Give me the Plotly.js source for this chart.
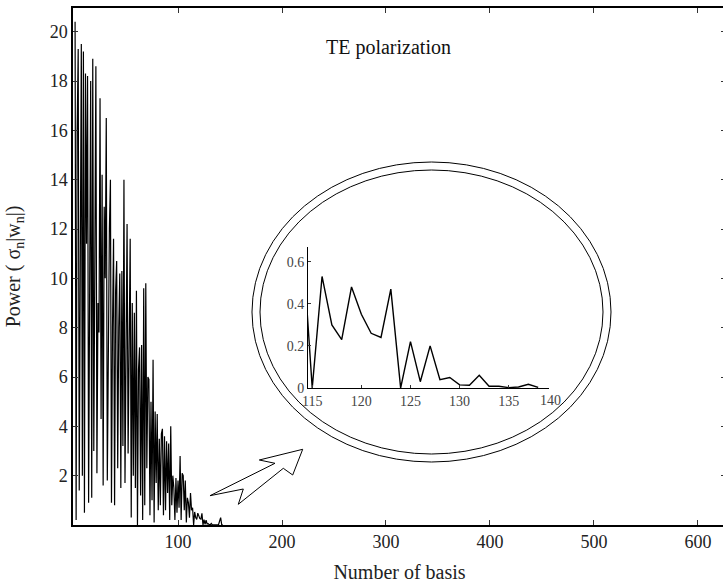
<!DOCTYPE html>
<html>
<head>
<meta charset="utf-8">
<script src="https://cdn.plot.ly/plotly-3.0.1.min.js"></script>
<style>
html,body{margin:0;padding:0;overflow:hidden;background:#fff;}
#chart{width:730px;height:584px;}
</style>
</head>
<body>
<div id="chart"></div>
<script>
// ---- data ----
const power = [
 20.4, 0.2, 16.0, 19.3, 1.4, 15.0, 19.5, 2.0, 19.2, 0.5,
 18.3, 11.4, 18.2, 0.9, 12.0, 18.0, 1.1, 18.9, 3.0, 14.0,
 18.6, 2.1, 9.0, 7.8, 17.3, 4.3, 14.2, 1.6, 12.9, 10.0,
 16.5, 1.8, 9.0, 12.0, 14.0, 0.9, 8.0, 11.6, 0.8, 9.5,
 10.7, 2.3, 8.0, 10.2, 1.5, 10.3, 3.2, 14.0, 1.7, 9.0,
 12.2, 2.9, 7.0, 11.6, 0.3, 9.0, 2.0, 8.6, 1.5, 9.5,
 0.0, 6.3, 7.2, 1.2, 7.3, 0.2, 9.6, 0.8, 9.8, 2.3,
 6.0, 5.9, 0.4, 5.0, 1.0, 6.7, 0.1, 4.6, 1.7, 4.5,
 0.6, 3.5, 0.8, 3.7, 3.9, 0.4, 3.6, 0.6, 3.4, 1.3,
 3.3, 0.2, 4.0, 0.8, 2.0, 1.5, 0.2, 1.9, 0.5, 1.8,
 0.7, 2.8, 0.2, 2.1, 2.0, 0.6, 1.8, 0.1, 1.1, 0.9,
 0.3, 1.3, 0.6, 0.7, 0.0, 0.53, 0.30, 0.23, 0.48, 0.35,
 0.26, 0.24, 0.47, 0.0, 0.22, 0.03, 0.20, 0.04, 0.05, 0.015,
 0.013, 0.06, 0.008, 0.008, 0.002, 0.005, 0.018, 0.003, 0.02, 0.15,
 0.3, 0.02, 0.0
];
const basis = power.map((v, i) => i + 1);
// zoomed window shown in the inset: basis 114 .. 138
const insetFirst = 114, insetLast = 138;
const mainXTicks = [100, 200, 300, 400, 500, 600];
const mainYTicks = [2, 4, 6, 8, 10, 12, 14, 16, 18, 20];
const insetXTicks = [115, 120, 125, 130, 135];
const insetYTicks = [0, 0.2, 0.4, 0.6];
const insetYLabels = ['0', '0.2', '0.4', '0.6'];
const chartTitle = 'TE polarization';

// ---- layout helpers (pixel -> paper) ----
const W = 730, H = 584;
const L = 73, R = 726, T = 8, B = 525;
const px = x => (x - L) / (R - L);
const py = y => (B - y) / (B - T);

const serif = 'Liberation Serif, Times New Roman, serif';

const insetX = basis.slice(insetFirst - 1, insetLast);
const insetY = power.slice(insetFirst - 1, insetLast);

const traces = [
  {x: basis, y: power, type: 'scatter', mode: 'lines',
   line: {color: '#000', width: 1.2}, xaxis: 'x', yaxis: 'y', hoverinfo: 'skip'},
  {x: insetX, y: insetY, type: 'scatter', mode: 'lines',
   line: {color: '#000', width: 1.4}, xaxis: 'x2', yaxis: 'y2', hoverinfo: 'skip'}
];

const arrowPts = [[210,495.7],[243.3,489],[238.3,504.3],[283.3,468.3],[292.7,475],[302.7,449.3],[259.3,460],[275,463.3]];
const arrowPath = 'M ' + arrowPts.map(p => px(p[0]).toFixed(5) + ',' + py(p[1]).toFixed(5)).join(' L ') + ' Z';

const layout = {
  width: W, height: H,
  margin: {l: L, r: W - R, t: T, b: H - B},
  paper_bgcolor: '#fff', plot_bgcolor: '#fff',
  showlegend: false,
  font: {family: serif, color: '#222', size: 18},
  xaxis: {
    range: [-1, 627], tickvals: mainXTicks, ticks: 'inside', ticklen: 5, tickwidth: 1,
    tickcolor: '#333', showline: true, linecolor: '#000', linewidth: 1.6, mirror: 'allticks',
    showgrid: false, zeroline: false, tickfont: {family: serif, size: 18, color: '#222'},
    title: {text: 'Number of basis', font: {family: serif, size: 20, color: '#222'}, standoff: 14}
  },
  yaxis: {
    range: [0, 20.96], tickvals: mainYTicks, ticks: 'inside', ticklen: 5, tickwidth: 1,
    tickcolor: '#333', showline: true, linecolor: '#000', linewidth: 1.6, mirror: 'allticks',
    showgrid: false, zeroline: false, tickfont: {family: serif, size: 18, color: '#222'},
    title: {text: 'Power ( σ<sub>n</sub>|w<sub>n</sub>|)', font: {family: serif, size: 20, color: '#222'}, standoff: 24}
  },
  xaxis2: {
    domain: [px(308), px(549)], anchor: 'y2', range: [114.57, 139.1],
    tickvals: insetXTicks, ticks: 'inside', ticklen: 3, tickwidth: 1, tickcolor: '#333',
    showline: true, linecolor: '#000', linewidth: 1, showgrid: false, zeroline: false,
    tickfont: {family: serif, size: 14, color: '#444'}
  },
  yaxis2: {
    domain: [py(388), py(247)], anchor: 'x2', range: [0, 0.67],
    tickvals: insetYTicks, ticktext: insetYLabels, ticks: 'inside', ticklen: 3, tickwidth: 1, tickcolor: '#333',
    showline: true, linecolor: '#000', linewidth: 1, showgrid: false, zeroline: false,
    tickfont: {family: serif, size: 14, color: '#444'}
  },
  annotations: [
    {text: chartTitle, xref: 'paper', yref: 'paper', x: px(388), y: py(47),
     xanchor: 'center', yanchor: 'middle', showarrow: false,
     font: {family: serif, size: 20, color: '#111'}},
    {text: '140', xref: 'paper', yref: 'paper', x: px(550), y: py(391),
     xanchor: 'center', yanchor: 'top', showarrow: false,
     font: {family: serif, size: 14, color: '#444'}}
  ],
  shapes: [
    {type: 'circle', xref: 'paper', yref: 'paper', x0: px(252), x1: px(611), y0: py(462), y1: py(162),
     line: {color: '#000', width: 1}},
    {type: 'circle', xref: 'paper', yref: 'paper', x0: px(260), x1: px(603), y0: py(454), y1: py(170),
     line: {color: '#000', width: 1}},
    {type: 'path', xref: 'paper', yref: 'paper', path: arrowPath,
     line: {color: '#000', width: 1}, fillcolor: '#fff'}
  ]
};

Plotly.newPlot('chart', traces, layout, {displayModeBar: false, staticPlot: true});
</script>
</body>
</html>
